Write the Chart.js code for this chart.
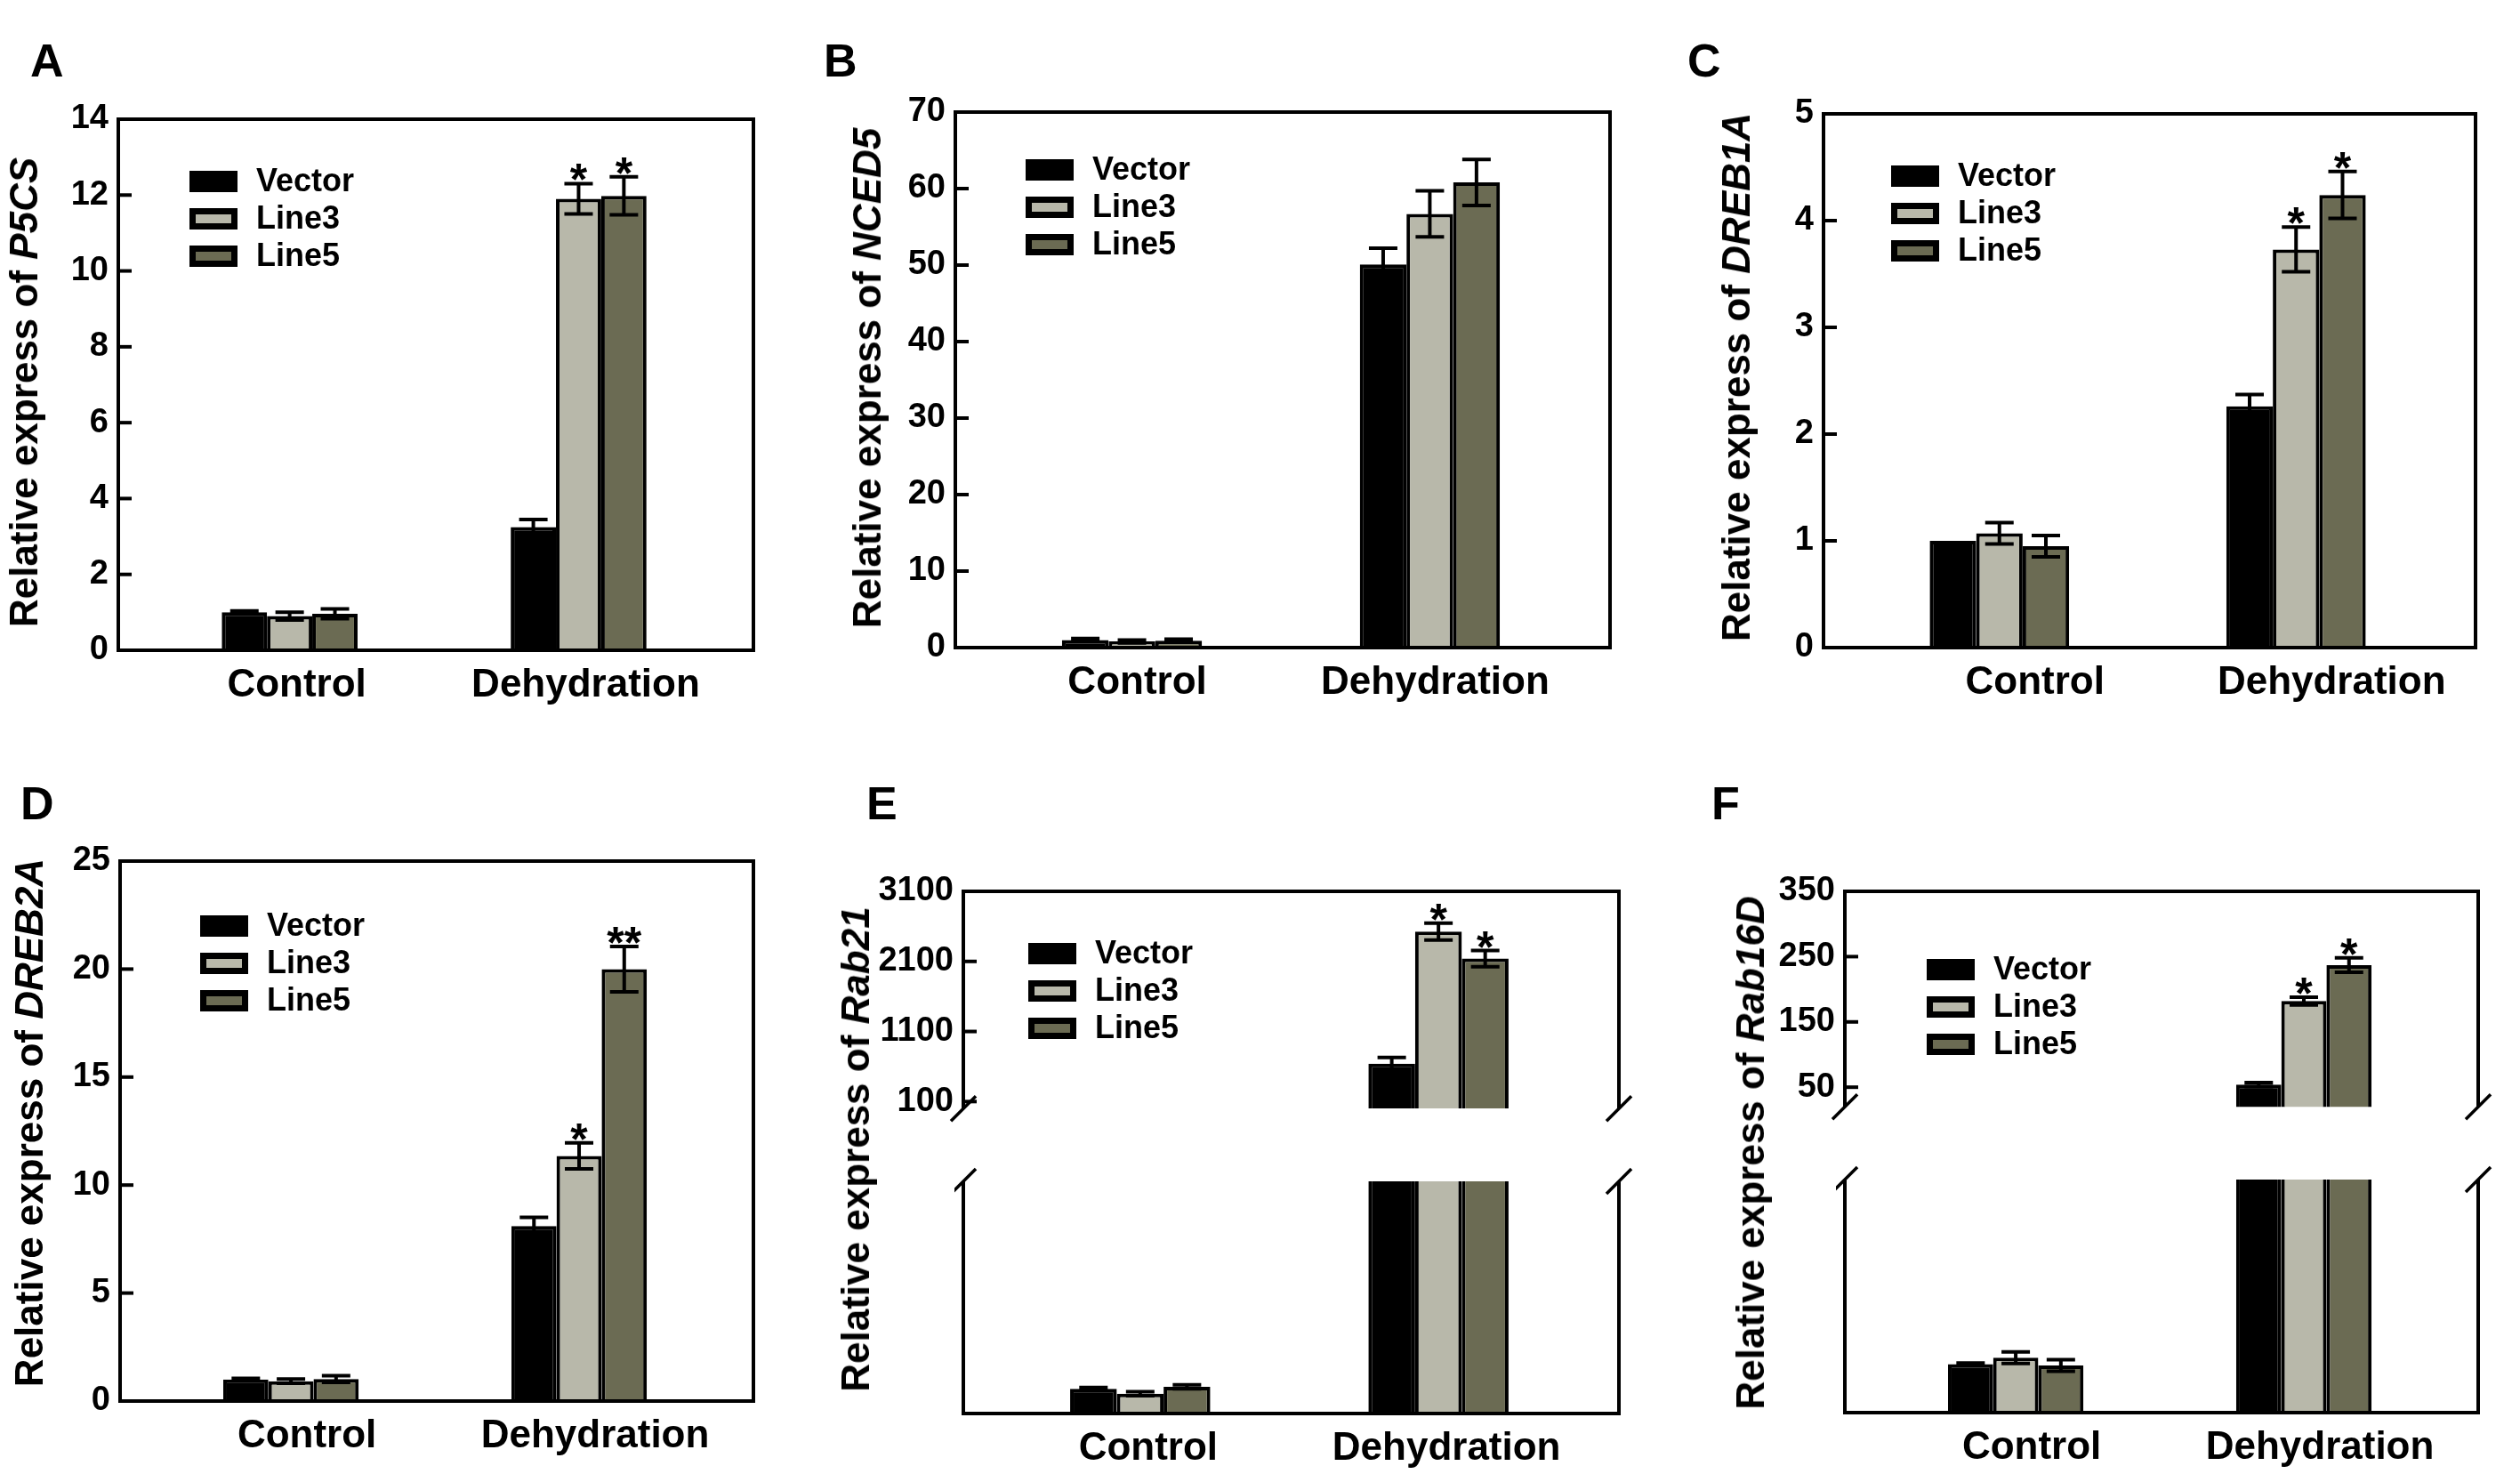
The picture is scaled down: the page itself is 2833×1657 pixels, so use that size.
<!DOCTYPE html>
<html>
<head>
<meta charset="utf-8">
<script src="https://cdn.jsdelivr.net/npm/chart.js@4.4.1/dist/chart.umd.min.js"></script>
<style>
  html, body { margin: 0; padding: 0; background: #fff; }
  body { width: 2833px; height: 1657px; position: relative; overflow: hidden;
         font-family: 'Liberation Sans', Arial, Helvetica, sans-serif; }
  .wrap { position: absolute; }
  .letter { position: absolute; font-weight: bold; font-size: 52px; line-height: 52px; }
  .ytitle { position: absolute; font-weight: bold; font-size: 44px; line-height: 44px;
            white-space: nowrap; transform: translate(-50%, -50%) rotate(-90deg); }
</style>
</head>
<body>
<script>
// categories and series
const groups = ['Control', 'Dehydration'];
const seriesNames = ['Vector', 'Line3', 'Line5'];
const seriesColors = ['#000000', '#b8b8aa', '#6b6b53'];

// A - P5CS
const p5csTicks = [0, 2, 4, 6, 8, 10, 12, 14];
const p5csVector = [1.0, 3.25];
const p5csVectorErr = [0.04, 0.2];
const p5csLine3 = [0.9, 11.9];
const p5csLine3Err = [0.1, 0.4];
const p5csLine5 = [0.96, 11.98];
const p5csLine5Err = [0.13, 0.5];
const p5csLine3Sig = ['', '*'];
const p5csLine5Sig = ['', '*'];

// B - NCED5
const nced5Ticks = [0, 10, 20, 30, 40, 50, 60, 70];
const nced5Vector = [1.0, 50.1];
const nced5VectorErr = [0.2, 2.1];
const nced5Line3 = [0.8, 56.7];
const nced5Line3Err = [0.2, 3.0];
const nced5Line5 = [0.9, 60.8];
const nced5Line5Err = [0.2, 3.0];
const nced5Line3Sig = ['', ''];
const nced5Line5Sig = ['', ''];

// C - DREB1A
const dreb1aTicks = [0, 1, 2, 3, 4, 5];
const dreb1aVector = [1.0, 2.26];
const dreb1aVectorErr = [0, 0.11];
const dreb1aLine3 = [1.07, 3.73];
const dreb1aLine3Err = [0.1, 0.21];
const dreb1aLine5 = [0.95, 4.24];
const dreb1aLine5Err = [0.1, 0.22];
const dreb1aLine3Sig = ['', '*'];
const dreb1aLine5Sig = ['', '*'];

// D - DREB2A
const dreb2aTicks = [0, 5, 10, 15, 20, 25];
const dreb2aVector = [1.0, 8.1];
const dreb2aVectorErr = [0.05, 0.4];
const dreb2aLine3 = [0.92, 11.35];
const dreb2aLine3Err = [0.1, 0.6];
const dreb2aLine5 = [1.02, 20.0];
const dreb2aLine5Err = [0.15, 1.05];
const dreb2aLine3Sig = ['', '*'];
const dreb2aLine5Sig = ['', '**'];

// E - Rab21 (broken axis)
const rab21Ticks = [100, 1100, 2100, 3100];
const rab21Vector = [1.0, 640];
const rab21VectorErr = [0.05, 90];
const rab21Line3 = [0.8, 2525];
const rab21Line3Err = [0.08, 120];
const rab21Line5 = [1.08, 2140];
const rab21Line5Err = [0.08, 115];
const rab21Line3Sig = ['', '*'];
const rab21Line5Sig = ['', '*'];

// F - Rab16D (broken axis)
const rab16dTicks = [50, 150, 250, 350];
const rab16dVector = [1.0, 54];
const rab16dVectorErr = [0.02, 3];
const rab16dLine3 = [1.13, 182];
const rab16dLine3Err = [0.12, 6];
const rab16dLine5 = [0.97, 237];
const rab16dLine5Err = [0.12, 11];
const rab16dLine3Sig = ['', '*'];
const rab16dLine5Sig = ['', '*'];

const FONT = "'Liberation Sans', Arial, Helvetica, sans-serif";
const Y_W = 112, X_H = 80;
const PAD = { top: 40, right: 30, bottom: 28, left: 10 };

// frame boxes are [left, top, right, bottom] in page pixels
const panels = [
  { letter: 'A', gene: 'P5CS', box: [133, 134, 847, 731], ticks: p5csTicks, labelShift: 8,
    data: [p5csVector, p5csLine3, p5csLine5], err: [p5csVectorErr, p5csLine3Err, p5csLine5Err],
    sig: [null, p5csLine3Sig, p5csLine5Sig], legend: { x: 80, y: 70 }, title: [27, 441], tag: [34, 42] },
  { letter: 'B', gene: 'NCED5', box: [1074, 126, 1810, 728], ticks: nced5Ticks, labelShift: 6,
    data: [nced5Vector, nced5Line3, nced5Line5], err: [nced5VectorErr, nced5Line3Err, nced5Line5Err],
    sig: [null, nced5Line3Sig, nced5Line5Sig], legend: { x: 79, y: 65 }, title: [975, 425], tag: [926, 42] },
  { letter: 'C', gene: 'DREB1A', box: [2050, 128, 2783, 728], ticks: dreb1aTicks, labelShift: 40,
    data: [dreb1aVector, dreb1aLine3, dreb1aLine5], err: [dreb1aVectorErr, dreb1aLine3Err, dreb1aLine5Err],
    sig: [null, dreb1aLine3Sig, dreb1aLine5Sig], legend: { x: 76, y: 70 }, title: [1952, 424], tag: [1897, 42] },
  { letter: 'D', gene: 'DREB2A', box: [135, 968, 847, 1575], ticks: dreb2aTicks, labelShift: 18,
    data: [dreb2aVector, dreb2aLine3, dreb2aLine5], err: [dreb2aVectorErr, dreb2aLine3Err, dreb2aLine5Err],
    sig: [null, dreb2aLine3Sig, dreb2aLine5Sig], legend: { x: 90, y: 73 }, title: [33, 1262], tag: [23, 877] },
  { letter: 'E', gene: 'Rab21', box: [1083, 1002, 1820, 1589], ticks: rab21Ticks, labelShift: 9,
    split: [1252, 1328], upperMin: 0, lowerMax: 9.4,
    data: [rab21Vector, rab21Line3, rab21Line5], err: [rab21VectorErr, rab21Line3Err, rab21Line5Err],
    sig: [null, rab21Line3Sig, rab21Line5Sig], legend: { x: 73, y: 70 }, title: [962, 1292], tag: [974, 877] },
  { letter: 'F', gene: 'Rab16D', box: [2074, 1002, 2786, 1588], ticks: rab16dTicks, labelShift: 18,
    split: [1250, 1326], upperMin: 20, lowerMax: 4.8,
    data: [rab16dVector, rab16dLine3, rab16dLine5], err: [rab16dVectorErr, rab16dLine3Err, rab16dLine5Err],
    sig: [null, rab16dLine3Sig, rab16dLine5Sig], legend: { x: 92, y: 88 }, title: [1968, 1296], tag: [1924, 877] }
];

// the figure puts the two groups at about 27% and 73% of the frame width
function spreadGroups(scale) {
  scale._startValue = -0.593;
  scale._valueRange = 2.198;
}

// error bars and significance stars
const errorPlugin = {
  id: 'errBars',
  afterDatasetsDraw(chart) {
    const { ctx, chartArea: a, scales: { y } } = chart;
    const tops = [];
    ctx.save();
    ctx.beginPath();
    ctx.rect(a.left, a.top, a.right - a.left, a.bottom - a.top);
    ctx.clip();
    ctx.strokeStyle = '#000';
    ctx.lineWidth = 4;
    chart.data.datasets.forEach((ds, k) => {
      chart.getDatasetMeta(k).data.forEach((bar, i) => {
        const v = ds.data[i];
        const e = ds.errs[i];
        if (v == null || v > y.max || v < y.min) return;
        const yt = y.getPixelForValue(v + e);
        const yb = y.getPixelForValue(v - e);
        if (e > 0) {
          ctx.beginPath();
          ctx.moveTo(bar.x, yt); ctx.lineTo(bar.x, yb);
          ctx.moveTo(bar.x - 16, yt); ctx.lineTo(bar.x + 16, yt);
          ctx.moveTo(bar.x - 16, yb); ctx.lineTo(bar.x + 16, yb);
          ctx.stroke();
        }
        if (ds.sig && ds.sig[i]) tops.push([bar.x, yt, ds.sig[i]]);
      });
    });
    ctx.restore();
    ctx.save();
    ctx.fillStyle = '#000';
    ctx.font = 'bold 50px ' + FONT;
    ctx.textAlign = 'center';
    ctx.textBaseline = 'alphabetic';
    tops.forEach(([x, yt, s]) => ctx.fillText(s, x, yt + 13));
    ctx.restore();
  }
};

// frame, broken-axis marks and inward ticks
const framePlugin = {
  id: 'frame',
  afterDatasetsDraw(chart, args, opts) {
    const { ctx, chartArea: a, scales: { y } } = chart;
    ctx.save();
    ctx.strokeStyle = '#000';
    ctx.lineWidth = 4;
    ctx.beginPath();
    if (opts.part === 'full') {
      ctx.rect(a.left, a.top, a.right - a.left, a.bottom - a.top);
    } else if (opts.part === 'upper') {
      ctx.moveTo(a.left, a.bottom); ctx.lineTo(a.left, a.top);
      ctx.lineTo(a.right, a.top); ctx.lineTo(a.right, a.bottom);
    } else {
      ctx.moveTo(a.left, a.top); ctx.lineTo(a.left, a.bottom);
      ctx.lineTo(a.right, a.bottom); ctx.lineTo(a.right, a.top);
    }
    ctx.stroke();
    if (opts.part !== 'full') {
      const yb = opts.part === 'upper' ? a.bottom : a.top;
      ctx.lineWidth = 3.5;
      [a.left, a.right].forEach(x => {
        ctx.beginPath();
        ctx.moveTo(x - 14, yb + 14);
        ctx.lineTo(x + 14, yb - 14);
        ctx.stroke();
      });
    }
    if (y.options.display) {
      ctx.lineWidth = 4;
      y.ticks.forEach(tk => {
        const py = y.getPixelForValue(tk.value);
        ctx.beginPath();
        ctx.moveTo(a.left, py);
        ctx.lineTo(a.left + 15, py);
        ctx.stroke();
      });
    }
    ctx.restore();
  }
};

// legend drawn inside the frame, as in the figure
const legendPlugin = {
  id: 'innerLegend',
  afterDraw(chart, args, opts) {
    if (!opts.show) return;
    const { ctx, chartArea: a } = chart;
    ctx.save();
    chart.data.datasets.forEach((ds, k) => {
      const x = a.left + opts.x;
      const cy = a.top + opts.y + k * 42;
      ctx.fillStyle = '#000';
      ctx.fillRect(x, cy - 12, 54, 24);
      if (k > 0) {
        ctx.fillStyle = ds.backgroundColor;
        ctx.fillRect(x + 7, cy - 5, 40, 10);
      }
      ctx.fillStyle = '#000';
      ctx.font = 'bold 36px ' + FONT;
      ctx.textBaseline = 'middle';
      ctx.textAlign = 'left';
      ctx.fillText(ds.label, x + 75, cy + 1);
    });
    ctx.restore();
  }
};

function makeChart(p, part) {
  const [l, t, r, b] = p.box;
  const top = part === 'lower' ? p.split[1] : t;
  const bottom = part === 'upper' ? p.split[0] : b;
  const showY = part !== 'lower';
  const showX = part !== 'upper';
  const leftExtra = PAD.left + (showY ? Y_W : 0);
  const w = (r - l) + leftExtra + PAD.right;
  const h = (bottom - top) + PAD.top + PAD.bottom + (showX ? X_H : 0);

  const wrap = document.createElement('div');
  wrap.className = 'wrap';
  wrap.style.left = (l - leftExtra) + 'px';
  wrap.style.top = (top - PAD.top) + 'px';
  wrap.style.width = w + 'px';
  wrap.style.height = h + 'px';
  const canvas = document.createElement('canvas');
  canvas.width = w;
  canvas.height = h;
  canvas.style.width = w + 'px';
  canvas.style.height = h + 'px';
  wrap.appendChild(canvas);
  document.body.appendChild(wrap);

  let yMin = 0, yMax = p.ticks[p.ticks.length - 1];
  if (part === 'upper') yMin = p.upperMin;
  if (part === 'lower') yMax = p.lowerMax;

  // upper part of a broken axis only carries the bars that reach past the break
  const datasets = seriesNames.map((name, k) => ({
    label: name,
    data: part === 'upper' ? p.data[k].map(v => (v > p.lowerMax ? v : null)) : p.data[k],
    errs: p.err[k],
    sig: part === 'lower' ? null : p.sig[k],
    backgroundColor: seriesColors[k],
    borderColor: '#000',
    borderWidth: 4,
    barPercentage: 1.0,
    categoryPercentage: 0.47,
    clip: 0
  }));

  const xScale = {
    display: showX,
    grid: { display: false, drawTicks: false },
    border: { display: false },
    ticks: { color: '#000', padding: 13, labelOffset: p.labelShift, maxRotation: 0, autoSkip: false,
             font: { family: FONT, size: 44, weight: 'bold' } },
    afterBuildTicks: spreadGroups
  };
  if (showX) xScale.afterFit = s => { s.height = X_H; };

  const yScale = {
    display: showY,
    min: yMin,
    max: yMax,
    grid: { display: false, drawTicks: false },
    border: { display: false },
    ticks: { color: '#000', padding: 11, font: { family: FONT, size: 38, weight: 'bold' },
             callback: v => String(v) },
    afterBuildTicks: s => { s.ticks = p.ticks.filter(v => v >= yMin && v <= yMax).map(v => ({ value: v })); }
  };
  if (showY) yScale.afterFit = s => { s.width = Y_W; };

  const chart = new Chart(canvas, {
    type: 'bar',
    data: { labels: groups, datasets },
    options: {
      responsive: false,
      animation: false,
      events: [],
      layout: { padding: PAD },
      scales: { x: xScale, y: yScale },
      plugins: {
        legend: { display: false },
        tooltip: { enabled: false },
        frame: { part },
        innerLegend: { show: part !== 'lower', x: p.legend.x, y: p.legend.y }
      }
    },
    plugins: [errorPlugin, framePlugin, legendPlugin]
  });

  // line the plot area up with the frame position
  wrap.style.left = (l - chart.chartArea.left) + 'px';
  wrap.style.top = (top - chart.chartArea.top) + 'px';
  return chart;
}

panels.forEach(p => {
  if (p.split) {
    makeChart(p, 'upper');
    makeChart(p, 'lower');
  } else {
    makeChart(p, 'full');
  }
  const tag = document.createElement('div');
  tag.className = 'letter';
  tag.style.left = p.tag[0] + 'px';
  tag.style.top = p.tag[1] + 'px';
  tag.textContent = p.letter;
  document.body.appendChild(tag);

  const title = document.createElement('div');
  title.className = 'ytitle';
  title.style.left = p.title[0] + 'px';
  title.style.top = p.title[1] + 'px';
  title.appendChild(document.createTextNode('Relative express of '));
  const gene = document.createElement('i');
  gene.textContent = p.gene;
  title.appendChild(gene);
  document.body.appendChild(title);
});
</script>
</body>
</html>
